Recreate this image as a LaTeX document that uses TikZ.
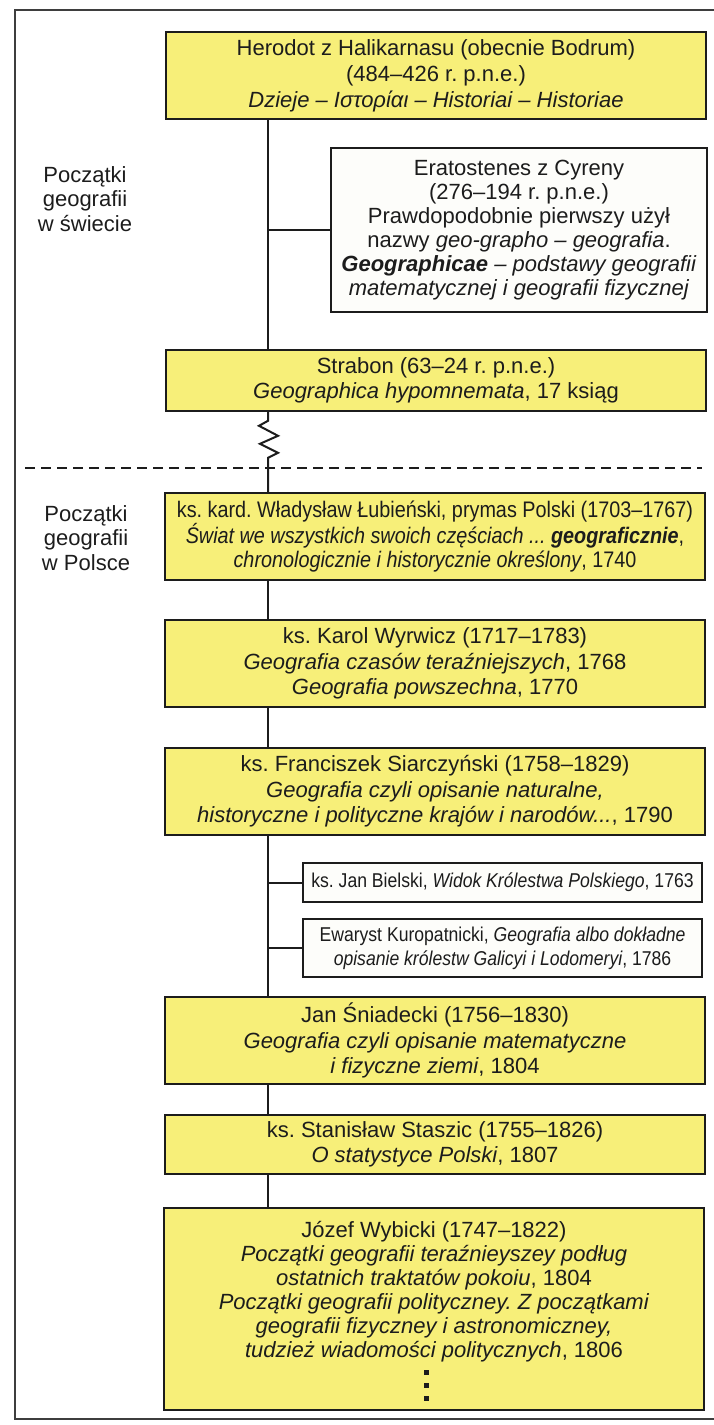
\documentclass[tikz,border=0pt]{standalone}
\usepackage{fontspec}
\setmainfont{Liberation Sans}
\newfontfamily\narrowfont[FakeStretch=0.88]{Liberation Sans}
\definecolor{boxyellow}{HTML}{F7EF79}
\definecolor{boxwhite}{HTML}{FDFDFA}
\definecolor{ink}{HTML}{1C1C1C}
\begin{document}
\frenchspacing
\begin{tikzpicture}[x=1pt,y=-1pt,
  conn/.style={draw=ink, line width=2pt},
  basebox/.style={draw=ink, line width=1.6pt, inner sep=0pt, align=center, text=ink},
  mainbox/.style={basebox, fill=boxyellow, minimum width=540pt, font=\fontsize{22}{25.5}\selectfont},
  sidebox/.style={basebox, fill=boxwhite},
  lbl/.style={align=center, text=ink, font=\fontsize{22}{24.5}\selectfont}]
\useasboundingbox (0,0) rectangle (714,1425);
% frame
\draw[ink!85, line width=1.5pt] (725,10) -- (15,10) -- (15,1419) -- (725,1419);
% labels
\node[lbl] (lw) at (85,199) {Początki\\geografii\\w świecie};
\node[lbl] (lp) at (86,538) {Początki\\geografii\\w Polsce};
% dashed separator
\draw[ink, line width=2pt, dash pattern=on 10pt off 6pt] (25,468) -- (702,468);
\coordinate (sp) at (268,0);
% boxes
\node[mainbox, minimum height=87pt, font=\fontsize{22}{26}\selectfont] (her) at (436,75.5)
  {Herodot z Halikarnasu (obecnie Bodrum)\\(484–426 r. p.n.e.)\\\textit{Dzieje – Ιστορίαι – Historiai – Historiae}};
\node[sidebox, minimum width=376pt, minimum height=164pt, font=\fontsize{22}{24}\selectfont] (era) at (519,230)
  {Eratostenes z Cyreny\\(276–194 r. p.n.e.)\\Prawdopodobnie pierwszy użył\\nazwy \textit{geo-grapho – geografia}.\\\textbf{\textit{Geographicae}} \textit{– podstawy geografii}\\\textit{matematycznej i geografii fizycznej}};
\node[mainbox, minimum height=61pt] (stra) at (436,380.5)
  {Strabon (63–24 r. p.n.e.)\\\textit{Geographica hypomnemata}, 17 ksiąg};
\node[mainbox, minimum height=87pt, font=\narrowfont\fontsize{22.5}{23.5}\selectfont] (lub) at (435,536.5)
  {ks. kard. Władysław Łubieński, prymas Polski (1703–1767)\\\textit{Świat we wszystkich swoich częściach ...} \textbf{\textit{geograficznie}},\\\textit{chronologicznie i historycznie określony}, 1740};
\node[mainbox, minimum height=87pt] (wyr) at (435,663.5)
  {ks. Karol Wyrwicz (1717–1783)\\\textit{Geografia czasów teraźniejszych}, 1768\\\textit{Geografia powszechna}, 1770};
\node[mainbox, minimum height=87pt] (sia) at (435,791.5)
  {ks. Franciszek Siarczyński (1758–1829)\\\textit{Geografia czyli opisanie naturalne,}\\\textit{historyczne i polityczne krajów i narodów...}, 1790};
\node[sidebox, minimum width=399pt, minimum height=39pt, font=\narrowfont\fontsize{20}{24}\selectfont] (bie) at (502.5,882.5)
  {ks. Jan Bielski, \textit{Widok Królestwa Polskiego}, 1763};
\node[sidebox, minimum width=399pt, minimum height=58pt, font=\narrowfont\fontsize{20}{24}\selectfont] (kur) at (502.5,948)
  {Ewaryst Kuropatnicki, \textit{Geografia albo dokładne}\\\textit{opisanie królestw Galicyi i Lodomeryi}, 1786};
\node[mainbox, minimum height=87pt] (sni) at (435,1040.5)
  {Jan Śniadecki (1756–1830)\\\textit{Geografia czyli opisanie matematyczne}\\\textit{i fizyczne ziemi}, 1804};
\node[mainbox, minimum height=59pt] (sta) at (435,1144.5)
  {ks. Stanisław Staszic (1755–1826)\\\textit{O statystyce Polski}, 1807};
\node[mainbox, minimum height=202pt] (wyb) at (434,1309) {};
\node[align=center, text=ink, inner sep=0pt, font=\fontsize{22}{24}\selectfont] (wybt) at (434,1292)
  {Józef Wybicki (1747–1822)\\\textit{Początki geografii teraźnieyszey podług}\\\textit{ostatnich traktatów pokoiu}, 1804\\\textit{Początki geografii polityczney. Z początkami}\\\textit{geografii fizyczney i astronomiczney,}\\\textit{tudzież wiadomości politycznych}, 1806};
\foreach \yy in {1372,1385,1398}{\fill[ink] (424,\yy-2) rectangle ++(4.5,4.5);}
% connectors
\draw[conn] (her.south -| sp) -- (stra.north -| sp);
\draw[conn] (era.west) -- (era.west -| sp);
\draw[conn] (stra.south -| sp) -- ++(0,9) -- ++(-9,5) -- ++(19,10) -- ++(-18,8) -- ++(18,9) -- ++(-10,5) -- (lub.north -| sp);
\draw[conn] (lub.south -| sp) -- (wyr.north -| sp);
\draw[conn] (wyr.south -| sp) -- (sia.north -| sp);
\draw[conn] (sia.south -| sp) -- (sni.north -| sp);
\draw[conn] (bie.west) -- (bie.west -| sp);
\draw[conn] (kur.west) -- (kur.west -| sp);
\draw[conn] (sni.south -| sp) -- (sta.north -| sp);
\draw[conn] (sta.south -| sp) -- (wyb.north -| sp);
\end{tikzpicture}
\end{document}
